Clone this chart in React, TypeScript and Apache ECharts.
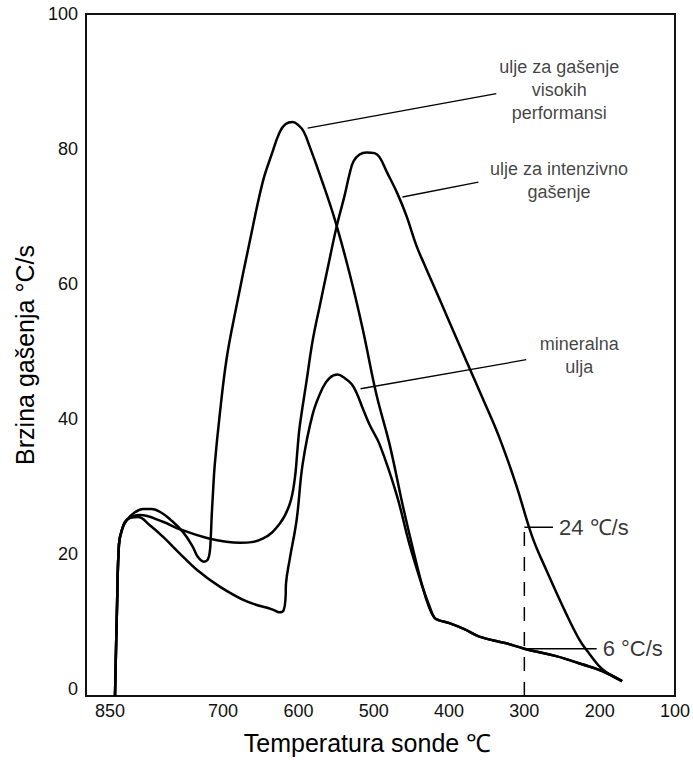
import React, { useEffect, useRef } from "react";
import * as echarts from "echarts";

const xTickLabels = [850, 700, 600, 500, 400, 300, 200, 100];
const yTickLabels = [0, 20, 40, 60, 80, 100];

// [temperatura sonde °C, brzina gašenja °C/s]
const highPerformanceOil: number[][] = [
  [843.5, -1], [840.9, 11.8], [838.2, 21.5], [834.3, 23.6], [827.6, 25.1], [817, 26.2],
  [806.4, 26.7], [794.5, 26.7], [781.3, 26.1], [770.7, 25.2], [753.4, 23.3], [740.2, 21.1],
  [733.5, 19.6], [725.6, 18.9], [720.3, 19.2], [717.6, 20.4], [716.3, 22.6], [715, 25.9],
  [713.7, 28.5], [711, 33.3], [704.4, 40.7], [695.1, 49.1], [681.9, 56.9], [664.6, 66.3],
  [647.4, 75.1], [635.5, 79.2], [624.9, 82.5], [616.9, 83.7], [607.6, 84.0], [599.7, 83.5],
  [593, 82.6], [585.1, 80.4], [571.8, 76.3], [552, 69.7], [532.1, 61.6], [514.9, 53.5],
  [496.3, 43.6], [479, 36.3], [461.8, 27.4], [448.6, 21.1], [435.3, 15.2], [426, 12.0],
  [419.4, 10.6], [412.8, 10.2], [399.5, 9.8], [379.7, 8.9], [359.8, 7.8], [324, 6.8],
  [300, 6.0], [257.7, 4.9], [223.3, 3.7], [196.8, 2.7], [170.2, 1.2],
];

const intensiveOil: number[][] = [
  [843.5, -1], [840.9, 11.8], [838.2, 21.5], [834.3, 23.6], [827.6, 25.1], [810.4, 25.8],
  [779.9, 24.8], [757.4, 23.7], [717.6, 22.3], [677.9, 21.7], [647.4, 22.3], [624.9, 24.5],
  [611.6, 27.4], [605, 31.0], [601, 35.8], [598.4, 38.8], [589.1, 45.7], [581.1, 51.6],
  [571.8, 56.7], [561.2, 62.3], [549.3, 68.5], [538.7, 73.1], [532.1, 76.3], [526.8, 78.2],
  [518.8, 79.2], [509.5, 79.5], [498.9, 79.4], [492.3, 78.8], [483, 76.7], [468.5, 73.4],
  [456.5, 70.1], [443.3, 65.7], [432.7, 62.9], [422.1, 60.2], [399.5, 54.4], [377, 48.6],
  [355.8, 43.2], [333.3, 37.3], [310.7, 30.2], [289.6, 22.6], [271, 17.7], [244.5, 11.2],
  [227.2, 7.4], [214, 5.3], [196.8, 3.0], [170.2, 1.2],
];

const mineralOil: number[][] = [
  [843.5, -1], [840.9, 11.8], [838.2, 21.5], [834.3, 23.6], [827.6, 25.1], [813.1, 25.5],
  [797.2, 24.3], [779.9, 22.6], [757.4, 20.1], [734.9, 17.7], [704.4, 15.2], [668.6, 13.0],
  [634.1, 11.8], [624.9, 11.4], [619.6, 11.7], [617, 13.7], [616.5, 15.6], [611.6, 19.2],
  [602.3, 25.1], [594.4, 33.3], [581.1, 40.7], [567.9, 44.6], [558.6, 46.1], [548, 46.6],
  [538.7, 46.1], [529.4, 45.2], [522.8, 43.9], [514.9, 41.7], [505.6, 39.2], [492.3, 36.3],
  [469.8, 28.9], [452.6, 21.5], [435.3, 15.2], [426, 12.3], [419.4, 10.6], [412.8, 10.2],
  [399.5, 9.8], [379.7, 8.9], [359.8, 7.8], [324, 6.8], [300, 6.0], [257.7, 4.9],
  [223.3, 3.7], [196.8, 2.7], [170.2, 1.2],
];

const leaderHighPerformance: number[][] = [[587.7, 83.1], [337.2, 88.2]];
const leaderIntensive: number[][] = [[461.8, 72.9], [361.1, 75.1]];
const leaderMineral: number[][] = [[517.5, 44.5], [297.5, 48.8]];

const marker24: number[][] = [[300, 24], [262, 24]];
const marker6: number[][] = [[300, 6], [204, 6]];
const dropLine300: number[][] = [[300, -1], [300, 24]];

const noteTexts = ["ulje za gašenje\nvisokih\nperformansi", "ulje za intenzivno\ngašenje", "mineralna\nulja"];
const notePositions: number[][] = [[253.7, 88.7], [254, 75.3], [227.2, 49.5]];

const markerTexts = ["24 ℃/s", "6 °C/s"];
const markerTextPositions: number[][] = [[262, 24], [204, 6]];

const FONT = "'Liberation Sans', Arial, sans-serif";

export default function App() {
  const ref = useRef<HTMLDivElement>(null);
  useEffect(() => {
    if (!ref.current) return;
    const chart = echarts.init(ref.current, undefined, { renderer: "svg" });
    const curve = (name: string, data: number[][]) => ({
      name,
      type: "line",
      data,
      smooth: 0.4,
      symbol: "none",
      silent: true,
      lineStyle: { color: "#000", width: 2.5 },
      z: 3,
    });
    const thin = (data: number[][], width = 1.3, type: any = "solid") => ({
      type: "line",
      data,
      symbol: "none",
      silent: true,
      lineStyle: { color: "#000", width, type },
      z: 2,
    });
    chart.setOption({
      animation: false,
      grid: {
        left: 86,
        right: 17,
        top: 14,
        bottom: 60,
        show: true,
        borderColor: "#111",
        borderWidth: 2,
        backgroundColor: "transparent",
      },
      xAxis: {
        type: "value",
        inverse: true,
        min: 100,
        max: 882,
        axisLine: { show: false },
        axisTick: { show: false },
        splitLine: { show: false },
        axisLabel: {
          customValues: xTickLabels,
          fontSize: 18,
          color: "#111",
          fontFamily: FONT,
          margin: 6,
        },
        name: "Temperatura sonde ℃",
        nameLocation: "middle",
        nameGap: 34,
        nameTextStyle: { fontSize: 25, color: "#000", fontFamily: FONT, padding: [0, 26, 0, 0] },
      },
      yAxis: {
        type: "value",
        min: -1,
        max: 100,
        axisLine: { show: false },
        axisTick: { show: false },
        splitLine: { show: false },
        axisLabel: {
          customValues: yTickLabels,
          fontSize: 18,
          color: "#111",
          fontFamily: FONT,
          margin: 8,
        },
        name: "Brzina gašenja °C/s",
        nameLocation: "middle",
        nameGap: 49,
        nameTextStyle: { fontSize: 25, color: "#000", fontFamily: FONT },
      },
      series: [
        curve("ulje za gašenje visokih performansi", highPerformanceOil),
        curve("ulje za intenzivno gašenje", intensiveOil),
        curve("mineralna ulja", mineralOil),
        thin(leaderHighPerformance),
        thin(leaderIntensive),
        thin(leaderMineral),
        thin(marker24, 1.5),
        thin(marker6, 1.5),
        thin(dropLine300, 1.5, [14, 11]),
        {
          type: "scatter",
          silent: true,
          symbolSize: 0,
          itemStyle: { color: "rgba(0,0,0,0)" },
          data: notePositions.map((p, i) => ({ value: p, label: { formatter: noteTexts[i] } })),
          label: {
            show: true,
            position: "inside",
            fontSize: 18,
            lineHeight: 23,
            align: "center",
            verticalAlign: "middle",
            color: "#111",
            fontFamily: FONT,
          },
        },
        {
          type: "scatter",
          silent: true,
          symbolSize: 0,
          itemStyle: { color: "rgba(0,0,0,0)" },
          data: markerTextPositions.map((p, i) => ({ value: p, label: { formatter: markerTexts[i] } })),
          label: {
            show: true,
            position: "right",
            distance: 6,
            fontSize: 22,
            color: "#000",
            fontFamily: FONT,
          },
        },
      ],
    });
    return () => chart.dispose();
  }, []);
  return (
    <div
      ref={ref}
      style={{ position: "absolute", left: 0, top: 0, width: 693, height: 760 }}
    />
  );
}
